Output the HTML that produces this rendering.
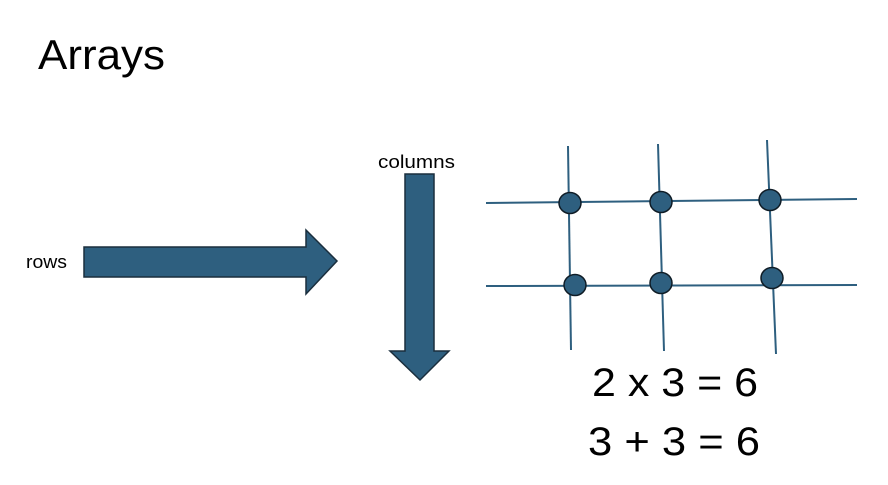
<!DOCTYPE html>
<html><head><meta charset="utf-8"><style>
html,body{margin:0;padding:0;background:#fff;}
svg{display:block;}
text{font-family:"Liberation Sans",sans-serif;fill:#000;}
</style></head><body>
<svg width="888" height="485" viewBox="0 0 888 485" xmlns="http://www.w3.org/2000/svg">
<text x="38" y="69" font-size="42" textLength="127" lengthAdjust="spacingAndGlyphs">Arrays</text>
<text x="26" y="268" font-size="18" textLength="41" lengthAdjust="spacingAndGlyphs">rows</text>
<text x="378" y="168" font-size="18" textLength="77" lengthAdjust="spacingAndGlyphs">columns</text>
<polygon points="84,247 306,247 306,230 337,261 306,294 306,277 84,277" fill="#2e5f7f" stroke="#1a2e3d" stroke-width="1.5"/>
<polygon points="405,174 434,174 434,351 449,351 420,380 390,351 405,351" fill="#2e5f7f" stroke="#1a2e3d" stroke-width="1.5"/>
<g stroke="#2e5f7f" stroke-width="2">
<line x1="486" y1="203" x2="857" y2="199"/>
<line x1="486" y1="286" x2="857" y2="285"/>
<line x1="568" y1="146" x2="571" y2="350"/>
<line x1="658" y1="144" x2="664" y2="351"/>
<line x1="767" y1="140" x2="776" y2="354"/>
</g>
<g fill="#2e5f7f" stroke="#0f1c26" stroke-width="1.5">
<ellipse cx="570" cy="203" rx="11" ry="10.5"/>
<ellipse cx="661" cy="202" rx="11" ry="10.5"/>
<ellipse cx="770" cy="200" rx="11" ry="10.5"/>
<ellipse cx="575" cy="285" rx="11" ry="10.5"/>
<ellipse cx="661" cy="283" rx="11" ry="10.5"/>
<ellipse cx="772" cy="278" rx="11" ry="10.5"/>
</g>
<text x="592" y="396" font-size="40" textLength="166" lengthAdjust="spacingAndGlyphs">2 x 3 = 6</text>
<text x="588" y="455" font-size="40" textLength="172" lengthAdjust="spacingAndGlyphs">3 + 3 = 6</text>
</svg>
</body></html>
